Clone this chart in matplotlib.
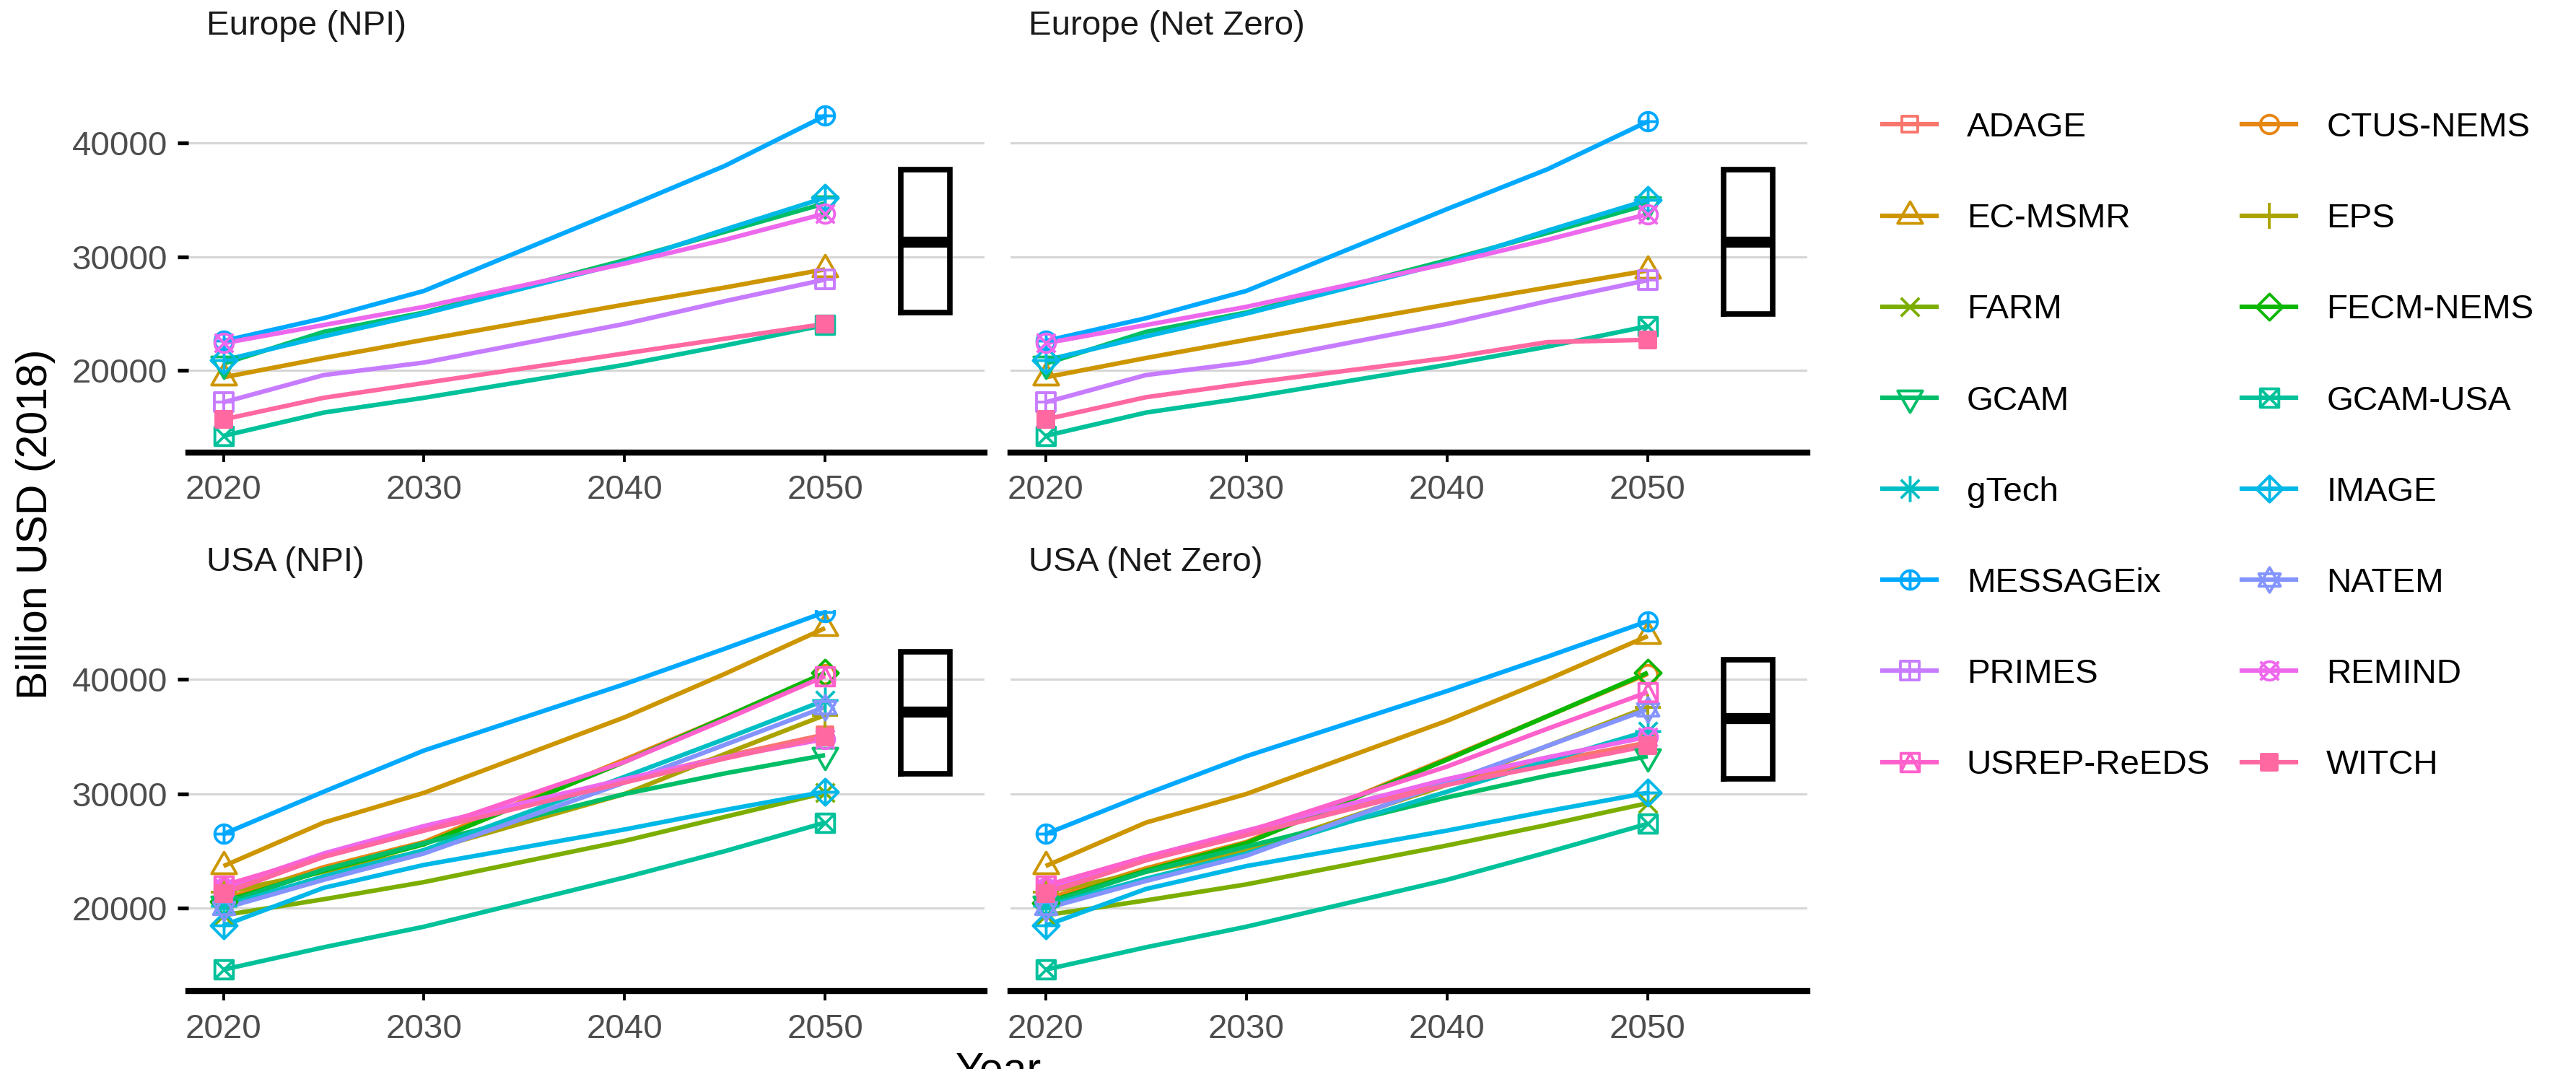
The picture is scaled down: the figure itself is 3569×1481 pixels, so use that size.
import numpy as np
import matplotlib
matplotlib.use("Agg")
import matplotlib.pyplot as plt
from matplotlib.path import Path
from matplotlib.lines import Line2D

plt.rcParams['font.family'] = ['Liberation Sans', 'DejaVu Sans']

# ---------------- data ----------------
MODELS = ["ADAGE", "CTUS-NEMS", "EC-MSMR", "EPS", "FARM", "FECM-NEMS", "GCAM",
          "GCAM-USA", "gTech", "IMAGE", "MESSAGEix", "NATEM", "PRIMES", "REMIND",
          "USREP-ReEDS", "WITCH"]
YEARS = [2020, 2025, 2030, 2040, 2045, 2050]

EU_NPI = {
    "MESSAGEix": [22600, 24600, 27000, 34300, 38000, 42400],
    "IMAGE":     [20900, 23000, 25000, 29500, 32400, 35200],
    "GCAM":      [20600, 23400, 25100, 29700, 32200, 34700],
    "REMIND":    [22400, 24000, 25600, 29400, 31500, 33800],
    "EC-MSMR":   [19400, 21100, 22700, 25800, 27300, 28900],
    "PRIMES":    [17200, 19600, 20700, 24100, 26100, 28000],
    "WITCH":     [15700, 17600, 18900, 21500, 22800, 24100],
    "GCAM-USA":  [14250, 16300, 17600, 20500, 22200, 24000],
}
EU_NZ = {
    "MESSAGEix": [22600, 24600, 27000, 34200, 37700, 41900],
    "IMAGE":     [20900, 23000, 25000, 29500, 32300, 35000],
    "GCAM":      [20600, 23400, 25100, 29700, 32100, 34600],
    "REMIND":    [22400, 24000, 25600, 29400, 31500, 33750],
    "EC-MSMR":   [19400, 21100, 22700, 25800, 27300, 28800],
    "PRIMES":    [17200, 19600, 20700, 24100, 26100, 27950],
    "WITCH":     [15700, 17650, 18870, 21100, 22500, 22700],
    "GCAM-USA":  [14250, 16300, 17600, 20500, 22100, 23900],
}
USA_NPI = {
    "ADAGE":       [21500, 24700, 27000, 31200, 33300, 35200],
    "CTUS-NEMS":   [20800, 23600, 25800, 33000, 36700, 40500],
    "EC-MSMR":     [23700, 27500, 30100, 36700, 40500, 44500],
    "EPS":         [21400, 23200, 25000, 30000, 33500, 36900],
    "FARM":        [19400, 20800, 22300, 25900, 28000, 30100],
    "FECM-NEMS":   [20600, 23300, 25600, 32800, 36700, 40600],
    "GCAM":        [20400, 23400, 25700, 30000, 31800, 33400],
    "GCAM-USA":    [14650, 16600, 18400, 22700, 25000, 27500],
    "gTech":       [20200, 22800, 25100, 31500, 34800, 38200],
    "IMAGE":       [18500, 21800, 23800, 26900, 28600, 30200],
    "MESSAGEix":   [26500, 30200, 33800, 39600, 42700, 45900],
    "NATEM":       [20000, 22500, 24800, 31000, 34300, 37600],
    "REMIND":      [21800, 24800, 27200, 31300, 33200, 34800],
    "USREP-ReEDS": [22000, 24600, 26800, 32800, 36500, 40300],
    "WITCH":       [21300, 24500, 26800, 31000, 33100, 35000],
}
USA_NZ = {
    "ADAGE":       [21500, 24400, 26600, 31000, 32800, 34500],
    "CTUS-NEMS":   [20800, 23500, 25800, 33100, 36800, 40500],
    "EC-MSMR":     [23700, 27500, 30000, 36400, 40000, 43800],
    "EPS":         [21400, 23200, 25000, 30800, 34200, 37600],
    "FARM":        [19400, 20700, 22100, 25500, 27300, 29200],
    "FECM-NEMS":   [20500, 23300, 25700, 33000, 36800, 40600],
    "GCAM":        [20400, 23200, 25400, 29700, 31600, 33300],
    "GCAM-USA":    [14650, 16600, 18400, 22500, 24900, 27400],
    "gTech":       [20200, 22600, 24800, 30200, 32900, 35500],
    "IMAGE":       [18500, 21700, 23700, 26800, 28500, 30100],
    "MESSAGEix":   [26500, 30000, 33300, 39000, 42000, 45100],
    "NATEM":       [20000, 22400, 24600, 31000, 34200, 37400],
    "REMIND":      [21800, 24500, 26800, 31300, 33200, 35000],
    "USREP-ReEDS": [22000, 24500, 26700, 32400, 35700, 38900],
    "WITCH":       [21300, 24200, 26400, 30800, 32500, 34200],
}
PANEL_TITLES = ["Europe (NPI)", "Europe (Net Zero)", "USA (NPI)", "USA (Net Zero)"]
PANEL_DATA = [EU_NPI, EU_NZ, USA_NPI, USA_NZ]
# box summaries (lower hinge, median, upper hinge) drawn at x = BOX_X
BOX_Q1 = [25100, 24950, 31750, 31300]
BOX_MED = [31320, 31320, 37200, 36600]
BOX_Q3 = [37700, 37700, 42430, 41750]
BOX_X = 2055
X_TICKS = [2020, 2030, 2040, 2050]
Y_TICKS = [20000, 30000, 40000]

# ---------------- style ----------------
W, H, DPI = 3569, 1481, 100
PX = 72.0 / DPI  # points per pixel


def hue_pal(n, h0=15, c=100, l=65):
    hues = np.linspace(h0, h0 + 360, n + 1)[:n]
    Xn, Yn, Zn = 95.047, 100.0, 108.883
    t = Xn + Yn + Zn
    x, y = Xn / t, Yn / t
    uN = 2 * x / (6 * y - x + 1.5)
    vN = 4.5 * y / (6 * y - x + 1.5)
    out = []
    for h in hues:
        hr = np.deg2rad(h)
        U, V = c * np.cos(hr), c * np.sin(hr)
        Y = Yn * ((l + 16) / 116) ** 3 if l > 7.999592 else Yn * l / 903.3
        u = U / (13 * l) + uN
        v = V / (13 * l) + vN
        X = 9.0 * Y * u / (4 * v)
        Z = -X / 3 - 5 * Y + 3 * Y / v
        R = (3.240479 * X - 1.537150 * Y - 0.498535 * Z) / Yn
        G = (-0.969256 * X + 1.875992 * Y + 0.041556 * Z) / Yn
        B = (0.055648 * X - 0.204043 * Y + 1.057311 * Z) / Yn
        rgb = []
        for ch in (R, G, B):
            ch = 12.92 * ch if ch <= 0.0031308 else 1.055 * ch ** (1 / 2.4) - 0.055
            rgb.append(min(max(ch, 0), 1))
        out.append(tuple(rgb))
    return out


COLORS = dict(zip(MODELS, hue_pal(len(MODELS))))


def sq(h):
    return Path([(-h, -h), (h, -h), (h, h), (-h, h), (-h, -h)],
                [Path.MOVETO, Path.LINETO, Path.LINETO, Path.LINETO, Path.CLOSEPOLY])


def poly(pts):
    pts = list(pts) + [pts[0]]
    return Path(pts, [Path.MOVETO] + [Path.LINETO] * (len(pts) - 2) + [Path.CLOSEPOLY])


def seg(p, q):
    return Path([p, q], [Path.MOVETO, Path.LINETO])


def plus(a):
    return [seg((-a, 0), (a, 0)), seg((0, -a), (0, a))]


def cross(a):
    return [seg((-a, -a), (a, a)), seg((-a, a), (a, -a))]


def circ(r):
    return Path.circle((0, 0), r)


TRI_UP = [(0, 1.555), (1.347, -0.778), (-1.347, -0.778)]
TRI_DN = [(x, -y) for x, y in TRI_UP]
DIAM = [(-1.414, 0), (0, 1.414), (1.414, 0), (0, -1.414)]


def shape(k):
    parts = {
        0: [sq(0.886)],
        1: [circ(1.0)],
        2: [poly(TRI_UP)],
        3: plus(1.414),
        4: cross(1.0),
        5: [poly(DIAM)],
        6: [poly(TRI_DN)],
        7: [sq(1.0)] + cross(1.0),
        8: cross(1.0) + plus(1.414),
        9: [poly(DIAM)] + plus(1.414),
        10: [circ(1.0)] + plus(1.0),
        11: [poly([(0, 1.35), (1.17, -0.675), (-1.17, -0.675)]),
             poly([(0, -1.35), (1.17, 0.675), (-1.17, 0.675)])],
        12: [sq(1.0)] + plus(1.0),
        13: [circ(1.0)] + cross(1.0),
        14: [sq(1.0), Path([(-1, -1), (0, 1), (1, -1)], [Path.MOVETO, Path.LINETO, Path.LINETO])],
        15: [sq(0.886)],
    }[k]
    p = Path.make_compound_path(*parts)
    m = np.max(np.abs(p.vertices))
    return p, m


R_PT = 12.8 * PX      # marker "radius" in points
LW = 4.5              # series line width (pt)
MEW = 2.8             # marker stroke (pt)
FS = 34.2             # small text size (pt)
FS_T = 42.5           # axis title size (pt)


def marker_kw(model):
    k = MODELS.index(model)
    p, m = shape(k)
    c = COLORS[model]
    return dict(marker=p, markersize=2 * m * R_PT, markeredgecolor=c,
                markerfacecolor=c if k == 15 else 'none', markeredgewidth=MEW)


fig = plt.figure(figsize=(W / DPI, H / DPI), dpi=DPI)
fig.patch.set_facecolor('white')

# panel rectangles in pixels: left, right, top, bottom ; y-limits from pixel calibration
RECTS = [(261, 1364, 100, 626.7), (1400, 2504, 100, 626.7),
         (261, 1364, 845, 1373.3), (1400, 2504, 845, 1373.3)]
YLIMS = [(12800, 46241), (12800, 46241), (12757, 46088), (12757, 46088)]
XLIM = (2018.25, 2057.95)
TITLE_Y = [36, 36, 779, 779]

for i, (title, data) in enumerate(zip(PANEL_TITLES, PANEL_DATA)):
    l, r, t, b = RECTS[i]
    ax = fig.add_axes([l / W, 1 - b / H, (r - l) / W, (b - t) / H])
    ax.set_facecolor('none')
    ax.set_xlim(*XLIM)
    ax.set_ylim(*YLIMS[i])
    ax.set_yticks(Y_TICKS)
    ax.set_xticks(X_TICKS)
    ax.grid(axis='y', color='#D6D6D6', lw=2.2)
    ax.set_axisbelow(True)
    for s in ('top', 'right', 'left'):
        ax.spines[s].set_visible(False)
    ax.spines['bottom'].set_linewidth(6)
    ax.spines['bottom'].set_color('black')
    ax.tick_params(axis='x', length=9, width=2.8, color='black', pad=13,
                   labelsize=FS, labelcolor='#4D4D4D')
    if i % 2 == 0:
        ax.tick_params(axis='y', length=11, width=3.8, color='black', pad=10,
                       labelsize=FS, labelcolor='#4D4D4D')
    else:
        ax.tick_params(axis='y', length=0, labelleft=False)

    models = [m for m in MODELS if m in data]
    for m in models:
        ax.plot(YEARS, data[m], color=COLORS[m], lw=LW, solid_joinstyle='round',
                solid_capstyle='butt', zorder=2)
    for m in models:
        ax.plot([YEARS[0], YEARS[-1]], [data[m][0], data[m][-1]], ls='none',
                zorder=3, **marker_kw(m))

    stats = [dict(med=BOX_MED[i], q1=BOX_Q1[i], q3=BOX_Q3[i],
                  whislo=BOX_Q1[i], whishi=BOX_Q3[i], fliers=[])]
    ax.bxp(stats, positions=[BOX_X], widths=[2.43], showcaps=False,
           showfliers=False, manage_ticks=False,
           boxprops=dict(lw=5.5, color='black', solid_joinstyle='miter'),
           medianprops=dict(lw=11, color='black', solid_capstyle='butt'),
           whiskerprops=dict(lw=0))

    fig.text((l + 25) / W, 1 - TITLE_Y[i] / H, title, fontsize=FS, color='#1A1A1A',
             ha='left', va='center')

fig.text(50 / W, 1 - 726 / H, 'Billion USD (2018)', rotation=90, fontsize=FS_T,
         ha='center', va='center', color='black')
fig.text(1383 / W, 1 - 1457 / H, 'Year', fontsize=FS_T, ha='center', va='top',
         color='black')

# legend (row-major order like the reference)
handles = []
for m in MODELS:
    handles.append(Line2D([], [], color=COLORS[m], lw=LW, **marker_kw(m)))
order = list(range(0, 16, 2)) + list(range(1, 16, 2))
fig.legend([handles[j] for j in order], [MODELS[j] for j in order],
           loc='upper left', bbox_to_anchor=(2608 / W, 1 - 155 / H), ncol=2,
           frameon=False, fontsize=FS, handlelength=1.58, handletextpad=0.88,
           columnspacing=0.93, labelspacing=1.73, borderpad=0, borderaxespad=0)

fig.savefig('out.png', dpi=DPI, facecolor='white')
